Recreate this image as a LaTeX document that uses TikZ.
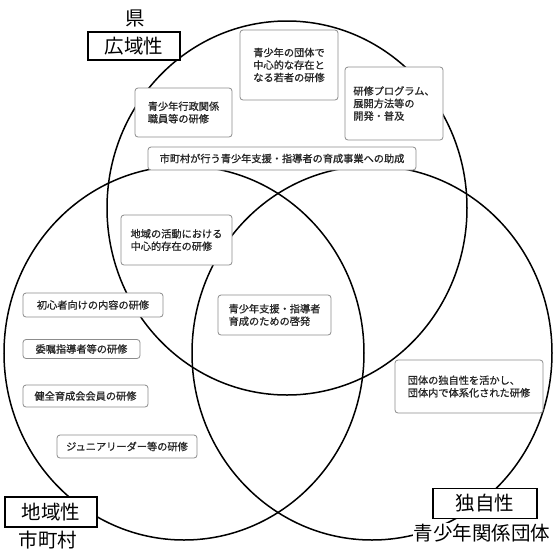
\documentclass[tikz,border=0pt]{standalone}
\usepackage{fontspec}
\newfontfamily\jp{Noto Sans CJK JP}
\newfontfamily\jpm[FakeBold=0.9]{Noto Sans CJK JP}
\begin{document}
\begin{tikzpicture}[x=1pt,y=-1pt,
  ring/.style={draw=black, line width=1.5pt},
  boxnode/.style={draw=black!45, line width=0.8pt, rounded corners=3pt, fill=white,
    font=\jpm\fontsize{10.2}{12.5}\selectfont, text=black!85, align=left, inner sep=0pt},
  tagbox/.style={draw=black, line width=1.8pt, fill=white,
    font=\jp\fontsize{19.5}{19.5}\selectfont, inner sep=0pt},
  biglabel/.style={font=\jp\fontsize{19.5}{19.5}\selectfont, inner sep=1pt}]
\useasboundingbox (0,0) rectangle (555,550);
\fill[white] (0,0) rectangle (555,550);
% three overlapping circles
\draw[ring] (287,208) ellipse [x radius=180pt, y radius=187pt];
\draw[ring] (184,353) ellipse [x radius=180pt, y radius=187pt];
\draw[ring] (372,353) ellipse [x radius=180pt, y radius=187pt];
% boxes
\node[boxnode, minimum width=98pt, minimum height=70pt] (b1) at (289,65)
  {青少年の団体で\\中心的な存在と\\なる若者の研修};
\node[boxnode, minimum width=97pt, minimum height=49pt] (b2) at (183.5,112.5)
  {青少年行政関係\\職員等の研修};
\node[boxnode, minimum width=98pt, minimum height=73pt] (b3) at (394,103.5)
  {研修プログラム、\\展開方法等の\\開発・普及};
\node[boxnode, minimum width=268pt, minimum height=23pt] (b4) at (282,158.5)
  {市町村が行う青少年支援・指導者の育成事業への助成};
\node[boxnode, minimum width=111pt, minimum height=50pt] (b5) at (176.5,240)
  {地域の活動における\\中心的存在の研修};
\node[boxnode, minimum width=140pt, minimum height=24pt] (b6) at (93,305)
  {初心者向けの内容の研修};
\node[boxnode, minimum width=117pt, minimum height=19pt] (b7) at (81.5,349)
  {委嘱指導者等の研修};
\node[boxnode, minimum width=125pt, minimum height=22pt] (b8) at (85.5,396)
  {健全育成会会員の研修};
\node[boxnode, minimum width=140pt, minimum height=23pt] (b9) at (127,446.5)
  {ジュニアリーダー等の研修};
\node[boxnode, minimum width=113pt, minimum height=40pt] (b10) at (274.5,315)
  {青少年支援・指導者\\育成のための啓発};
\node[boxnode, minimum width=148pt, minimum height=53pt] (b11) at (469,386.5)
  {団体の独自性を活かし、\\団体内で体系化された研修};
% labels
\node[biglabel] (ken) at (135,18) {県};
\node[tagbox, minimum width=92pt, minimum height=28pt] (kouiki) at (134,46) {広域性};
\node[tagbox, minimum width=92pt, minimum height=30pt] (chiiki) at (51,512) {地域性};
\node[biglabel] (shichoson) at (48,540) {市町村};
\node[tagbox, minimum width=104pt, minimum height=30pt] (dokuji) at (485,503.5) {独自性};
\node[biglabel, fill=white] (dantai) at (482,533) {青少年関係団体};
\end{tikzpicture}
\end{document}
